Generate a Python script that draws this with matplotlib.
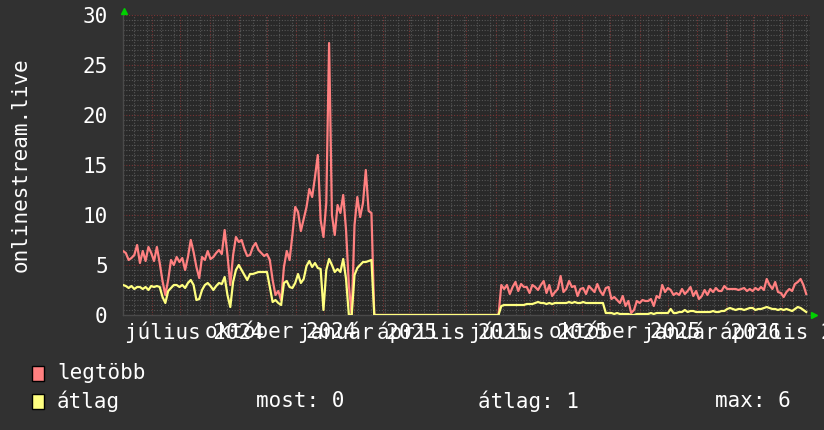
import numpy as np
import pandas as pd
import matplotlib
matplotlib.use("Agg")
import matplotlib.pyplot as plt
import matplotlib.dates as mdates
import matplotlib.transforms as mtransforms
from matplotlib.patches import Rectangle
from matplotlib.ticker import MultipleLocator, FixedLocator

plt.rcParams['font.family'] = ['DejaVu Sans Mono']

# samples every 3 days starting at the left edge of the graph
start_date = "2024-05-01"
end_date = "2026-05-01"
step_days = 3

legtobb = [
    6.4, 6.2, 5.5, 5.7, 6.0, 7.0, 5.2, 6.4, 5.4, 6.8,
    6.2, 5.4, 6.8, 5.2, 3.4, 2.0, 3.5, 5.5, 5.0, 5.8,
    5.3, 5.7, 4.5, 5.8, 7.5, 6.3, 4.8, 3.7, 5.8, 5.5,
    6.4, 5.6, 5.8, 6.2, 6.5, 6.1, 8.5, 6.0, 3.0, 6.0,
    7.8, 7.3, 7.5, 6.6, 5.9, 6.0, 6.8, 7.2, 6.5, 6.2,
    5.9, 6.1, 5.5, 3.5, 2.0, 2.4, 1.5, 4.8, 6.4, 5.5,
    8.0, 10.8, 10.3, 8.4, 9.6, 10.8, 12.6, 11.8, 13.8, 16.0,
    9.5, 7.8, 11.2, 27.2, 10.0, 8.0, 11.0, 10.2, 12.0, 8.5,
    3.0, 0.0, 9.0, 11.8, 9.8, 11.2, 14.5, 10.4, 10.2,
    0, 0, 0, 0, 0, 0, 0, 0, 0, 0, 0, 0, 0, 0, 0,
    0, 0, 0, 0, 0, 0, 0, 0, 0, 0, 0, 0, 0, 0, 0,
    0, 0, 0, 0, 0, 0, 0, 0, 0, 0, 0, 0, 0, 0, 0,
    3.0, 2.6, 3.0, 2.1, 2.8, 3.3, 2.4, 3.1, 2.8, 2.8,
    2.2, 3.0, 2.8, 2.5, 3.0, 3.4, 2.2, 3.0, 1.9, 2.3,
    2.6, 3.9, 2.3, 2.6, 3.4, 2.8, 2.9, 1.9, 2.6, 2.7,
    2.1, 2.9, 2.6, 2.3, 3.1, 2.4, 2.0, 2.7, 2.8, 1.6,
    1.8, 1.5, 1.2, 1.9, 0.9, 1.4, 0.2, 0.5, 1.4, 1.2,
    1.5, 1.4, 1.4, 1.6, 0.9, 1.9, 1.7, 3.0, 2.3, 2.7,
    2.5, 2.0, 2.2, 2.0, 2.6, 2.1, 2.4, 2.8, 1.9, 2.4,
    1.6, 1.9, 2.5, 2.0, 2.6, 2.3, 2.7, 2.4, 2.4, 2.9,
    2.6, 2.6, 2.6, 2.6, 2.5, 2.6, 2.7, 2.4, 2.6, 2.4,
    2.7, 2.5, 2.8, 2.5, 3.6, 3.0, 2.6, 3.3, 2.3, 2.2,
    1.8, 2.3, 2.6, 2.4, 3.1, 3.3, 3.6, 3.0, 2.1,
]

atlag = [
    3.0, 2.9, 2.7, 2.9, 2.6, 2.8, 2.8, 2.6, 2.8, 2.5,
    2.9, 2.8, 2.9, 2.8, 1.8, 1.2, 2.4, 2.7, 3.0, 3.0,
    2.8, 3.0, 2.7, 3.2, 3.5, 3.0, 1.5, 1.6, 2.5, 3.0,
    3.2, 2.9, 2.5, 2.9, 3.2, 3.1, 3.8, 2.0, 0.8, 3.3,
    4.5, 5.0, 4.5, 4.0, 3.5, 4.1, 4.1, 4.2, 4.3, 4.3,
    4.3, 4.3, 2.8, 1.3, 1.5, 1.2, 1.0, 3.2, 3.4, 2.8,
    2.7, 3.2, 4.1, 3.2, 3.6, 4.9, 5.4, 4.8, 5.2, 4.7,
    4.6, 0.5, 4.5, 5.6, 5.0, 4.3, 4.6, 4.3, 5.6, 3.6,
    0.0, 0.0, 4.0, 4.7, 5.0, 5.3, 5.3, 5.4, 5.5,
    0, 0, 0, 0, 0, 0, 0, 0, 0, 0, 0, 0, 0, 0, 0,
    0, 0, 0, 0, 0, 0, 0, 0, 0, 0, 0, 0, 0, 0, 0,
    0, 0, 0, 0, 0, 0, 0, 0, 0, 0, 0, 0, 0, 0, 0,
    0.9, 1.0, 1.0, 1.0, 1.0, 1.0, 1.0, 1.0, 1.0, 1.1,
    1.1, 1.1, 1.2, 1.3, 1.2, 1.2, 1.1, 1.2, 1.1, 1.2,
    1.2, 1.2, 1.2, 1.2, 1.3, 1.2, 1.3, 1.2, 1.2, 1.3,
    1.2, 1.2, 1.2, 1.2, 1.2, 1.2, 1.2, 0.2, 0.2, 0.2,
    0.1, 0.2, 0.1, 0.1, 0.1, 0.1, 0.0, 0.0, 0.1, 0.1,
    0.1, 0.1, 0.1, 0.2, 0.1, 0.2, 0.2, 0.2, 0.2, 0.2,
    0.6, 0.2, 0.2, 0.3, 0.3, 0.5, 0.3, 0.4, 0.4, 0.3,
    0.3, 0.3, 0.3, 0.3, 0.3, 0.4, 0.3, 0.3, 0.4, 0.4,
    0.6, 0.7, 0.6, 0.5, 0.6, 0.6, 0.5, 0.6, 0.7, 0.7,
    0.5, 0.6, 0.6, 0.7, 0.8, 0.7, 0.6, 0.6, 0.5, 0.6,
    0.5, 0.6, 0.5, 0.4, 0.6, 0.8, 0.7, 0.5, 0.3,
]

x_labels = ["július 2024", "október 2024", "január 2025", "április 2025",
            "július 2025", "október 2025", "január 2026", "április 2026"]
x_label_dates = ["2024-07-16", "2024-10-16", "2025-01-16", "2025-04-16",
                 "2025-07-16", "2025-10-16", "2026-01-16", "2026-04-16"]

legend_stats = ["most: 0", "átlag: 1", "max: 6"]

W, H = 824, 430
def fx(px):
    return px / W
def fy(py):
    return 1 - py / H

bg = "#313131"
red = "#ff8080"
yellow = "#ffff80"

fig = plt.figure(figsize=(W / 100, H / 100), dpi=100, facecolor=bg)
ax = fig.add_axes([fx(123), fy(315), fx(810) - fx(123), fy(15) - fy(315)])
ax.set_facecolor("#292929")

dates = np.datetime64(start_date) + np.arange(len(legtobb)) * np.timedelta64(step_days, "D")
ax.plot(dates, legtobb, color=red, lw=1.6, zorder=3)
ax.plot(dates, atlag, color=yellow, lw=1.6, zorder=4)

ax.set_xlim(np.datetime64(start_date), np.datetime64(end_date))
ax.set_ylim(0, 30)

# grid: red on months / every 5, grey every two weeks / every 0.5
ax.xaxis.set_major_locator(mdates.MonthLocator())
minor_days = pd.date_range("2024-05-13", end_date, freq="14D")
ax.xaxis.set_minor_locator(FixedLocator(mdates.date2num(minor_days)))
ax.yaxis.set_major_locator(MultipleLocator(5))
ax.yaxis.set_minor_locator(MultipleLocator(0.5))
ax.set_axisbelow(True)
ax.grid(which="minor", color="#565656", lw=0.8, linestyle=(0, (1, 1.5)))
ax.grid(which="major", color="#7a3434", lw=0.8, linestyle=(0, (1, 1.5)))

ax.tick_params(which="both", length=0)
ax.tick_params(axis="x", labelbottom=False)
ax.tick_params(axis="y", labelcolor="white", labelsize=15, pad=11)
for s in ["top", "right"]:
    ax.spines[s].set_visible(False)
for s in ["left", "bottom"]:
    ax.spines[s].set_color("#4a4a4a")
    ax.spines[s].set_linewidth(1)

trans = mtransforms.blended_transform_factory(ax.transData, ax.transAxes)
for lab, d in zip(x_labels, x_label_dates):
    ax.text(np.datetime64(d), -0.022, lab, transform=trans, ha="center", va="top",
            color="white", fontsize=15, clip_on=False)

fig.text(fx(21), fy(165), "onlinestream.live", rotation=90, ha="center", va="center",
         color="white", fontsize=15)

# green arrows on the axes ends
fig.add_artist(plt.Line2D([fx(124.5)], [fy(10.5)], marker="^", markersize=5,
                          color="#00d000", transform=fig.transFigure))
fig.add_artist(plt.Line2D([fx(814)], [fy(315)], marker=">", markersize=5,
                          color="#00d000", transform=fig.transFigure))

# legend
for (name, col, ypx) in [("legtöbb", red, 373), ("átlag", yellow, 401)]:
    fig.add_artist(Rectangle((fx(32), fy(ypx + 8)), fx(12), fy(ypx - 7) - fy(ypx + 8),
                             facecolor=col, edgecolor="black", lw=1, transform=fig.transFigure))
    fig.text(fx(57), fy(ypx), name, color="white", fontsize=15, va="center", ha="left")

for txt, xpx in zip(legend_stats, [256, 478, 715]):
    fig.text(fx(xpx), fy(401), txt, color="white", fontsize=15, va="center", ha="left")

fig.savefig("out.png", dpi=100, facecolor=bg)
